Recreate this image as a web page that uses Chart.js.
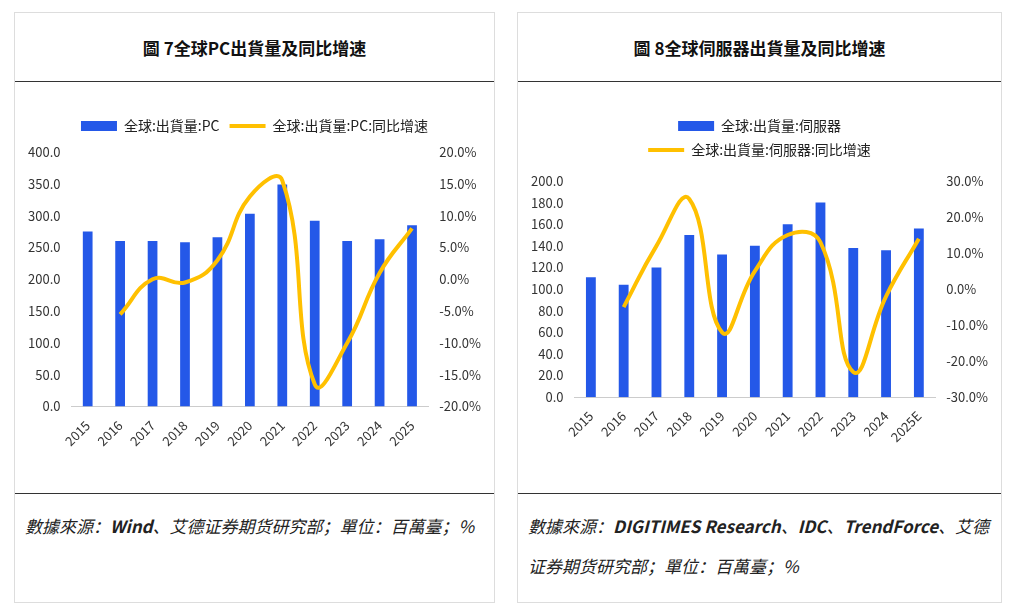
<!DOCTYPE html>
<html><head><meta charset="utf-8">
<script src="https://cdn.jsdelivr.net/npm/chart.js@4/dist/chart.umd.min.js"></script>
<style>
body{margin:0;background:#fff;font-family:"Noto Sans CJK SC",sans-serif;}
.panel{position:absolute;top:12px;height:591px;border:1px solid #ddd;box-sizing:border-box;}
.title{height:68px;border-bottom:1px solid #333;display:flex;align-items:center;justify-content:center;font-weight:bold;font-size:17px;color:#111;}
.chart{position:absolute;top:96px;left:4px;right:4px;height:372px;}
.foot{position:absolute;top:480px;left:0;right:0;border-top:1px solid #333;padding:12px 10px 0 10px;font-style:italic;font-size:17px;line-height:40px;color:#222;}
.foot b{font-weight:600;}
</style></head><body>
<div class="panel" style="left:14px;width:481px;">
  <div class="title">圖 7全球PC出貨量及同比增速</div>
  <div class="chart"><canvas id="c1"></canvas></div>
  <div class="foot">數據來源：<b>Wind</b>、艾德证券期货研究部；單位：百萬臺；%</div>
</div>
<div class="panel" style="left:517px;width:485px;">
  <div class="title">圖 8全球伺服器出貨量及同比增速</div>
  <div class="chart"><canvas id="c2"></canvas></div>
  <div class="foot">數據來源：<b>DIGITIMES Research</b>、<b>IDC</b>、<b>TrendForce</b>、艾德证券期货研究部；單位：百萬臺；%</div>
</div>
<script>
const pcYears = ['2015','2016','2017','2018','2019','2020','2021','2022','2023','2024','2025'];
const pcShip = [275, 260, 260, 258, 266, 303, 349, 292, 260, 263, 285];
const pcYoy = [null, -5.5, 0, -0.5, 3, 13, 15.5, -16.5, -10, 1, 8];
const svYears = ['2015','2016','2017','2018','2019','2020','2021','2022','2023','2024','2025E'];
const svShip = [111, 104, 120, 150, 132, 140, 160, 180, 138, 136, 156];
const svYoy = [null, -5, 12, 25, -12, 5, 15, 13, -23, -2, 14];

const tickFont = {family:'"Noto Sans CJK SC"', size:13};
function make(id, labels, ship, yoy, barLabel, lineLabel, lmax, lstep, rmin, rmax, rstep, legendWidth, gap, padBottom){
  new Chart(document.getElementById(id), {
    data:{labels, datasets:[
      {type:'line', label:lineLabel, data:yoy, yAxisID:'y1', borderColor:'#FFC000', backgroundColor:'#FFC000', borderWidth:4, pointRadius:0, pointStyle:'line', tension:0.45, fill:false, order:0},
      {type:'bar', label:barLabel, data:ship, yAxisID:'y', backgroundColor:'#2458E8', pointStyle:'rect', barPercentage:0.3, categoryPercentage:1, order:1}
    ]},
    options:{responsive:true, maintainAspectRatio:false, animation:false,
      layout:{padding:{left:6,right:6,top:0,bottom:padBottom}},
      plugins:{legend:{reverse:true, labels:{usePointStyle:true, pointStyleWidth:36, boxHeight:10, color:'#222', font:{family:'"Noto Sans CJK SC"', size:14}, padding:10}}, tooltip:{enabled:false}},
      scales:{
        x:{grid:{display:false}, border:{color:'#ccc'}, ticks:{color:'#333', font:tickFont, maxRotation:45, minRotation:45}},
        y:{min:0, max:lmax, ticks:{stepSize:lstep, color:'#333', font:tickFont, callback:v=>v.toFixed(1)}, grid:{display:false}, border:{display:false}},
        y1:{position:'right', min:rmin, max:rmax, ticks:{stepSize:rstep, color:'#333', font:tickFont, callback:v=>v.toFixed(1)+'%'}, grid:{display:false}, border:{display:false}}
      }},
    plugins:[{id:'gap', beforeInit(chart){
      const f = chart.legend.fit;
      chart.legend.fit = function(){
        const mw = this.maxWidth;
        this.maxWidth = Math.min(mw, legendWidth);
        f.call(this);
        this.maxWidth = mw;
        this.width = mw;
        this.height += gap;
      };
    }}]
  });
}
make('c1', pcYears, pcShip, pcYoy, '全球:出貨量:PC', '全球:出貨量:PC:同比增速', 400, 50, -20, 20, 5, 470, 9, 29);
make('c2', svYears, svShip, svYoy, '全球:出貨量:伺服器', '全球:出貨量:伺服器:同比增速', 200, 20, -30, 30, 10, 300, 14, 33);
</script>
</body></html>
